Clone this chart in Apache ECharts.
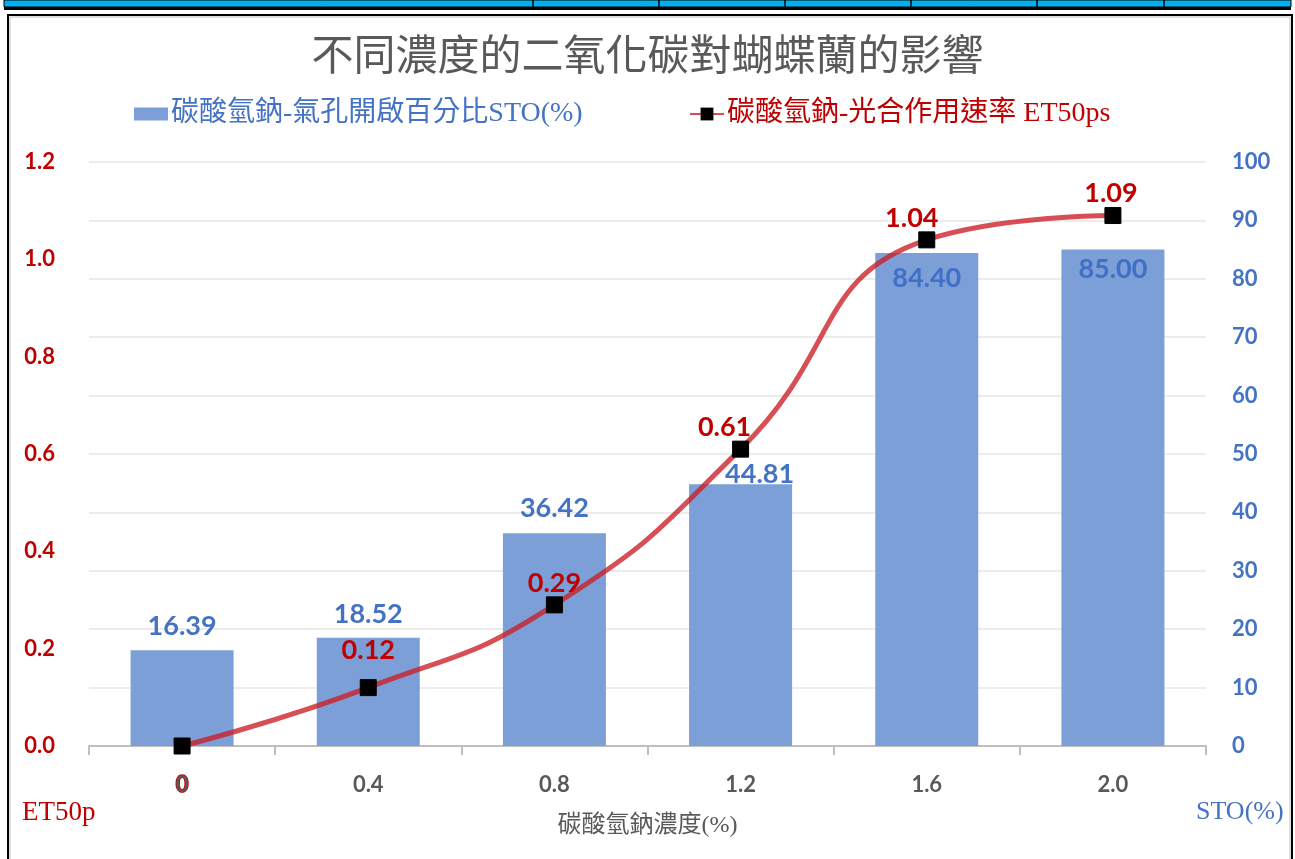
<!DOCTYPE html>
<html>
<head>
<meta charset="utf-8">
<title>不同濃度的二氧化碳對蝴蝶蘭的影響</title>
<script src="https://cdn.jsdelivr.net/npm/echarts@6/dist/echarts.min.js"></script>
<style>
  html, body { margin: 0; padding: 0; background: #ffffff; }
  #chart { width: 1295px; height: 859px; }
</style>
</head>
<body>
<div id="chart"></div>
<script>
// Sodium bicarbonate concentration (%) on the category axis
const categories = ['0', '0.4', '0.8', '1.2', '1.6', '2.0'];
// Stomatal opening percentage STO(%) — bars, right axis
const stoValues = [16.39, 18.52, 36.42, 44.81, 84.40, 85.00];
// Photosynthetic rate ET50ps — smoothed line, left axis
const et50Values = [0, 0.12, 0.29, 0.61, 1.04, 1.09];
// Axis ranges
const leftAxisTicks = { min: 0, max: 1.2, interval: 0.2 };
const rightAxisTicks = { min: 0, max: 100, interval: 10 };

const stoName = '碳酸氫鈉-氣孔開啟百分比STO(%)';
const etName = '碳酸氫鈉-光合作用速率 ET50ps';

const RED = '#C00000';
const BLUE = '#4472C4';
const GRAY = '#595959';
const NUM_FONT = 'Lato, "Open Sans", sans-serif';
const TEXT_FONT = '"Liberation Serif", "Noto Sans CJK TC", serif';

// per-point label placement tweaks so labels do not collide with the curve
const barLabelTweaks = [
  { position: 'top', distance: 10 },
  { position: 'top', distance: 10 },
  { position: 'top', distance: 12 },
  { position: 'top', distance: 10, offset: [19, 13] },
  { position: 'insideTop', distance: 12, color: '#3F6FC6' },
  { position: 'insideTop', distance: 6, color: '#3F6FC6' }
];
const lineLabelTweaks = [
  { show: false },
  { distance: 15 },
  { distance: 0 },
  { distance: 0, offset: [-16, 0] },
  { distance: 0, offset: [-15, 0] },
  { distance: 0, offset: [-2, 0] }
];

const barData = stoValues.map((v, i) => ({
  value: v,
  label: Object.assign({}, barLabelTweaks[i])
}));
const lineData = et50Values.map((v, i) => ({
  value: v,
  label: Object.assign({}, lineLabelTweaks[i])
}));

// cell dividers of the sheet strip above the chart
const stripDividers = [533, 659, 785, 911, 1037, 1164];

const chart = echarts.init(document.getElementById('chart'), null, { renderer: 'canvas' });

const graphics = [
  { type: 'rect', shape: { x: 4, y: 0, width: 1287, height: 7 }, style: { fill: '#00B0F0', stroke: '#000', lineWidth: 1 }, silent: true },
  { type: 'rect', shape: { x: 4, y: 7, width: 1287, height: 3 }, style: { fill: '#000' }, silent: true },
  { type: 'rect', shape: { x: 8, y: 15, width: 1284, height: 860 }, style: { fill: 'none', stroke: '#000', lineWidth: 2 }, silent: true },
  { type: 'rect', shape: { x: 10, y: 17, width: 1280, height: 860 }, style: { fill: 'none', stroke: '#BFBFBF', lineWidth: 1 }, silent: true },
  {
    type: 'text', left: 22, top: 799,
    style: { text: 'ET50p', fill: RED, font: '27px ' + TEXT_FONT }, silent: true
  },
  {
    type: 'text', left: 1196, top: 799,
    style: { text: 'STO(%)', fill: BLUE, font: '26px ' + TEXT_FONT }, silent: true
  }
];
stripDividers.forEach(x => {
  graphics.push({ type: 'line', shape: { x1: x, y1: 0, x2: x, y2: 7 }, style: { stroke: '#000', lineWidth: 1.5 }, silent: true });
});

const option = {
  backgroundColor: '#ffffff',
  animation: false,
  title: {
    text: '不同濃度的二氧化碳對蝴蝶蘭的影響',
    left: 'center',
    top: 38,
    padding: 0,
    textStyle: { fontFamily: TEXT_FONT, fontSize: 42, fontWeight: 'normal', color: GRAY }
  },
  legend: [
    {
      data: [{ name: stoName, icon: 'rect' }],
      left: 134, top: 100,
      itemWidth: 34, itemHeight: 13, itemGap: 0,
      padding: 0,
      textStyle: { fontFamily: TEXT_FONT, fontSize: 28, color: BLUE, padding: [0, 0, 0, -2] }
    },
    {
      data: [{ name: etName }],
      left: 689, top: 100,
      itemWidth: 34, itemHeight: 16, itemGap: 0,
      padding: 0,
      textStyle: { fontFamily: TEXT_FONT, fontSize: 28, color: RED, padding: [0, 0, 0, -2] }
    }
  ],
  grid: { left: 89, right: 89, top: 162, bottom: 113, containLabel: false },
  xAxis: {
    type: 'category',
    data: categories,
    name: '碳酸氫鈉濃度(%)',
    nameLocation: 'middle',
    nameGap: 68,
    nameTextStyle: { fontFamily: TEXT_FONT, fontSize: 24, color: GRAY },
    axisLine: { lineStyle: { color: '#BFBFBF', width: 2 } },
    axisTick: { show: true, length: 9, lineStyle: { color: '#BFBFBF', width: 2 } },
    axisLabel: {
      margin: 28,
      fontFamily: NUM_FONT, fontSize: 22, fontWeight: 'bold', color: GRAY,
      formatter: (v, i) => i === 0 ? '{z|' + v + '}' : v,
      rich: {
        z: { fontFamily: NUM_FONT, fontSize: 22, fontWeight: 'bold', color: GRAY, textBorderColor: RED, textBorderWidth: 1.5 }
      }
    },
    splitLine: { show: false }
  },
  yAxis: [
    {
      type: 'value',
      position: 'left',
      min: leftAxisTicks.min, max: leftAxisTicks.max, interval: leftAxisTicks.interval,
      axisLine: { show: false },
      axisTick: { show: false },
      splitLine: { show: false },
      axisLabel: {
        margin: 34,
        fontFamily: NUM_FONT, fontSize: 22, fontWeight: 'bold', color: RED,
        formatter: v => v.toFixed(1)
      }
    },
    {
      type: 'value',
      position: 'right',
      min: rightAxisTicks.min, max: rightAxisTicks.max, interval: rightAxisTicks.interval,
      axisLine: { show: false },
      axisTick: { show: false },
      splitLine: { show: true, lineStyle: { color: '#E6E6E6', width: 1.5 } },
      axisLabel: {
        margin: 26,
        fontFamily: NUM_FONT, fontSize: 22, fontWeight: 'bold', color: BLUE
      }
    }
  ],
  series: [
    {
      name: stoName,
      type: 'bar',
      yAxisIndex: 1,
      barWidth: 103,
      data: barData,
      itemStyle: { color: '#7C9FD7' },
      label: {
        show: true,
        fontFamily: NUM_FONT, fontSize: 27, fontWeight: 'bold', color: BLUE,
        formatter: p => p.value.toFixed(2)
      },
      z: 1
    },
    {
      name: etName,
      type: 'line',
      yAxisIndex: 0,
      data: lineData,
      smooth: 0.5,
      symbol: 'rect',
      symbolSize: 16,
      itemStyle: { color: '#000000', borderColor: '#000000' },
      lineStyle: { color: 'rgba(204,28,36,0.78)', width: 5 },
      label: {
        show: true,
        position: 'top',
        fontFamily: NUM_FONT, fontSize: 27, fontWeight: 'bold', color: RED,
        formatter: p => p.value.toFixed(2)
      },
      z: 3
    }
  ],
  graphic: graphics
};

chart.setOption(option);
</script>
</body>
</html>
